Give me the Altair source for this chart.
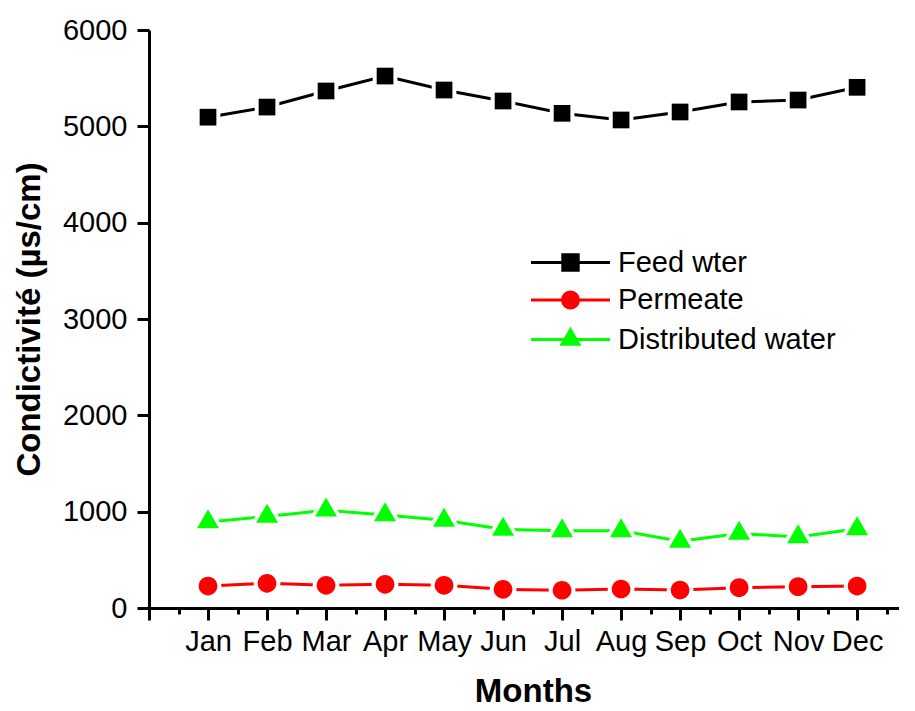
import json
import altair as alt
import pandas as pd

months = ["Jan", "Feb", "Mar", "Apr", "May", "Jun", "Jul", "Aug", "Sep", "Oct", "Nov", "Dec"]
series_names = ["Feed wter", "Permeate", "Distributed water"]
feed = [5095, 5200, 5367, 5522, 5377, 5263, 5135, 5066, 5149, 5253, 5273, 5405]
permeate = [228, 256, 235, 246, 235, 194, 184, 197, 187, 211, 221, 228]
distributed = [893, 951, 1015, 965, 910, 817, 801, 801, 692, 773, 738, 822]
colors = ["#000000", "#ff0000", "#00ff00"]
y_ticks = [0, 1000, 2000, 3000, 4000, 5000, 6000]

rows = []
for name, vals in zip(series_names, [feed, permeate, distributed]):
    for i, v in enumerate(vals):
        rows.append({"idx": i + 1, "month": months[i], "value": v, "series": name, "kind": name})
df = pd.DataFrame(rows)

FONT = "Liberation Sans"

# marker shapes (unit = 10 px at size 400)
marker = {
    "Feed wter": "M-0.835,-0.835H0.835V0.835H-0.835Z",
    "Permeate": "M-0.935,0A0.935,0.935,0,1,0,0.935,0A0.935,0.935,0,1,0,-0.935,0Z",
    "Distributed water": "M-1.1,0.633L0,-1.267L1.1,0.633Z",
}
# white halos behind markers (gap between line and marker)
halo = {
    "Feed wter": "M-1.235,-1.235H1.235V1.235H-1.235Z",
    "Permeate": "M-1.335,0A1.335,1.335,0,1,0,1.335,0A1.335,1.335,0,1,0,-1.335,0Z",
    "Distributed water": "M-1.75,1.01L0,-2.02L1.75,1.01Z",
}
kind_order = sorted(series_names)

# legend symbols: line with marker
lsq = "M-3.95,0H3.95M-0.77,-0.77H0.77V0.77H-0.77Z"
lcirc = "M-3.95,0H3.95M-0.8,0A0.8,0.8,0,1,0,0.8,0A0.8,0.8,0,1,0,-0.8,0Z"
ltri = "M-3.95,0H3.95M-0.84,0.485L0,-0.97L0.84,0.485Z"
shape_expr = (
    f"datum.value === {json.dumps(series_names[0])} ? '{lsq}' : "
    f"datum.value === {json.dumps(series_names[1])} ? '{lcirc}' : '{ltri}'"
)

label_expr = (
    f"datum.value >= 1 && datum.value <= 12 && datum.value % 1 === 0 ? "
    f"{json.dumps(months)}[datum.value - 1] : ''"
)

x_enc = alt.X(
    "idx:Q",
    scale=alt.Scale(domain=[0, 12.71], nice=False, zero=False),
    axis=alt.Axis(
        values=[k * 0.5 for k in range(26)],
        labelExpr=label_expr,
        tickSize={"condition": {"test": "datum.value % 1 !== 0", "value": 6}, "value": 12},
        labelPadding=7,
        labelOverlap=False,
        labelFlush=False,
        title="Months",
        titlePadding=19,
        titleX=384,
    ),
)
y_enc = alt.Y(
    "value:Q",
    scale=alt.Scale(domain=[0, 6000], nice=False),
    axis=alt.Axis(
        values=y_ticks,
        format="d",
        tickSize=12,
        labelPadding=10,
        title="Condictivité (µs/cm)",
        titlePadding=16,
    ),
)

legend = alt.Legend(
    title=None,
    orient="none",
    legendX=379,
    legendY=218,
    padding=0,
    rowPadding=7.5,
    labelFont=FONT,
    labelFontSize=29,
    labelColor="black",
    labelLimit=500,
    symbolSize=400,
    symbolStrokeWidth=3,
    symbolOffset=28,
    labelOffset=33,
    symbolOpacity=1,
    symbolType={"expr": shape_expr},
    symbolStrokeColor={"expr": "scale('color', datum.value)"},
    symbolFillColor={"expr": "scale('color', datum.value)"},
)

color_scale = alt.Scale(domain=series_names, range=colors)

lines = alt.Chart(df).mark_line(strokeWidth=3).encode(
    x=x_enc,
    y=y_enc,
    color=alt.Color("series:N", scale=color_scale, legend=legend),
    detail="series:N",
)

halos = alt.Chart(df).mark_point(filled=True, size=400, opacity=1, color="white").encode(
    x=x_enc,
    y=y_enc,
    shape=alt.Shape("kind:N", scale=alt.Scale(range=[halo[k] for k in kind_order]), legend=None),
)

points = alt.Chart(df).mark_point(filled=True, size=400, opacity=1).encode(
    x=x_enc,
    y=y_enc,
    color=alt.Color("series:N", scale=color_scale, legend=legend),
    shape=alt.Shape("kind:N", scale=alt.Scale(range=[marker[k] for k in kind_order]), legend=None),
)

chart = (
    alt.layer(lines, halos, points)
    .resolve_scale(shape="independent")
    .properties(width=750, height=578, padding={"left": 5, "top": 8, "right": 0, "bottom": 0})
    .configure_view(stroke=None)
    .configure_axis(
        grid=False,
        domainColor="black",
        domainWidth=3,
        tickColor="black",
        tickWidth=3,
        labelColor="black",
        labelFont=FONT,
        labelFontSize=29,
        titleColor="black",
        titleFont=FONT,
        titleFontSize=33,
        titleFontWeight="bold",
    )
)

chart.save("out.html", embed_options={"renderer": "svg", "actions": False})
